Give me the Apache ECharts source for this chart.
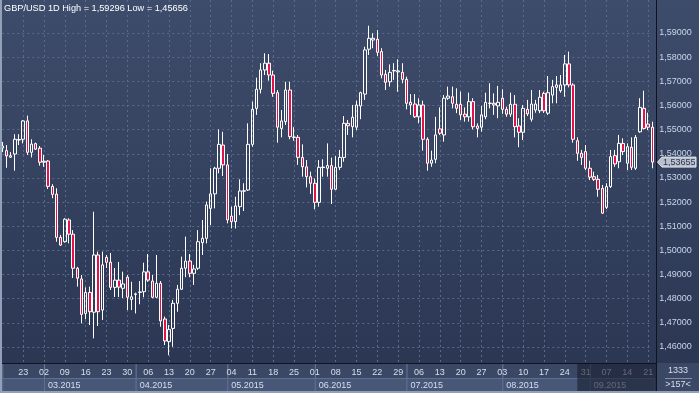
<!DOCTYPE html>
<html><head><meta charset="utf-8">
<script src="https://cdn.jsdelivr.net/npm/echarts@6/dist/echarts.min.js"></script>
<style>html,body{margin:0;padding:0;background:#2c3854;}#c{width:699px;height:393px;}</style>
</head><body><div id="c"></div>
<script>
// ---- data ----
const symbolTitle = 'GBP/USD 1D High = 1,59296 Low = 1,45656';
const firstDate = '2015-02-16';
// [open, close, low, high]
const candles = [
[1.5424,1.5432,1.5407,1.5449],[1.5413,1.5391,1.5342,1.5436],[1.5386,1.5392,1.5383,1.5407],[1.5399,1.5460,1.5330,1.5481],
[1.5457,1.5459,1.5436,1.5481],[1.5460,1.5536,1.5443,1.5540],[1.5536,1.5406,1.5395,1.5558],[1.5406,1.5440,1.5385,1.5460],
[1.5442,1.5419,1.5416,1.5446],[1.5423,1.5365,1.5351,1.5432],[1.5365,1.5369,1.5346,1.5395],[1.5370,1.5265,1.5254,1.5374],
[1.5265,1.5232,1.5216,1.5274],[1.5233,1.5054,1.5036,1.5257],[1.5054,1.5022,1.5018,1.5064],[1.5036,1.5129,1.5032,1.5133],
[1.5126,1.5067,1.5029,1.5133],[1.5067,1.4926,1.4886,1.5084],[1.4926,1.4885,1.4850,1.4932],[1.4882,1.4735,1.4698,1.4898],
[1.4739,1.4826,1.4715,1.4847],[1.4826,1.4746,1.4691,1.4850],[1.4744,1.4981,1.4636,1.5160],[1.4981,1.4746,1.4687,1.4995],
[1.4753,1.4940,1.4712,1.4995],[1.4971,1.4951,1.4927,1.4981],[1.4951,1.4847,1.4836,1.4989],[1.4847,1.4877,1.4807,1.4927],
[1.4877,1.4848,1.4807,1.4952],[1.4843,1.4861,1.4803,1.4912],[1.4889,1.4806,1.4753,1.4898],[1.4797,1.4808,1.4753,1.4870],
[1.4818,1.4820,1.4739,1.4825],[1.4826,1.4828,1.4777,1.4873],[1.4829,1.4911,1.4806,1.4949],[1.4911,1.4877,1.4870,1.4985],
[1.4873,1.4806,1.4802,1.4898],[1.4806,1.4864,1.4802,1.4981],[1.4864,1.4708,1.4684,1.4873],[1.4716,1.4625,1.4608,1.4726],
[1.4622,1.4673,1.4566,1.4691],[1.4677,1.4781,1.4601,1.4795],[1.4781,1.4839,1.4746,1.4857],[1.4839,1.4926,1.4836,1.4974],
[1.4926,1.4956,1.4889,1.5057],[1.4956,1.4905,1.4889,1.4985],[1.4905,1.4923,1.4857,1.4940],[1.4926,1.5036,1.4919,1.5084],
[1.5032,1.5050,1.4981,1.5126],[1.5050,1.5188,1.5029,1.5202],[1.5174,1.5234,1.5105,1.5340],[1.5234,1.5340,1.5174,1.5346],
[1.5340,1.5439,1.5319,1.5501],[1.5436,1.5354,1.5308,1.5491],[1.5354,1.5126,1.5112,1.5399],[1.5142,1.5119,1.5091,1.5181],
[1.5119,1.5184,1.5091,1.5222],[1.5181,1.5246,1.5146,1.5294],[1.5245,1.5247,1.5163,1.5278],[1.5250,1.5439,1.5246,1.5526],
[1.5439,1.5584,1.5429,1.5616],[1.5588,1.5667,1.5561,1.5715],[1.5667,1.5747,1.5650,1.5775],[1.5747,1.5775,1.5726,1.5816],
[1.5775,1.5726,1.5703,1.5813],[1.5726,1.5650,1.5636,1.5744],[1.5653,1.5510,1.5446,1.5664],[1.5505,1.5536,1.5468,1.5581],
[1.5533,1.5664,1.5519,1.5698],[1.5664,1.5471,1.5460,1.5698],[1.5468,1.5469,1.5454,1.5510],[1.5468,1.5385,1.5354,1.5478],
[1.5385,1.5346,1.5305,1.5439],[1.5346,1.5305,1.5261,1.5374],[1.5305,1.5278,1.5234,1.5326],[1.5278,1.5199,1.5170,1.5298],
[1.5199,1.5344,1.5181,1.5374],[1.5343,1.5345,1.5305,1.5377],[1.5340,1.5351,1.5305,1.5443],[1.5351,1.5253,1.5192,1.5384],
[1.5253,1.5344,1.5250,1.5391],[1.5344,1.5385,1.5333,1.5416],[1.5385,1.5526,1.5367,1.5556],[1.5526,1.5516,1.5478,1.5540],
[1.5512,1.5551,1.5468,1.5602],[1.5510,1.5602,1.5498,1.5620],[1.5598,1.5653,1.5543,1.5657],[1.5647,1.5830,1.5623,1.5843],
[1.5833,1.5878,1.5809,1.5930],[1.5871,1.5878,1.5837,1.5899],[1.5874,1.5820,1.5805,1.5912],[1.5823,1.5726,1.5712,1.5837],
[1.5729,1.5696,1.5664,1.5747],[1.5698,1.5737,1.5678,1.5770],[1.5743,1.5745,1.5706,1.5775],[1.5739,1.5743,1.5657,1.5791],
[1.5737,1.5708,1.5692,1.5775],[1.5708,1.5609,1.5584,1.5719],[1.5613,1.5602,1.5561,1.5647],[1.5606,1.5553,1.5548,1.5647],
[1.5553,1.5602,1.5526,1.5630],[1.5602,1.5460,1.5413,1.5620],[1.5460,1.5361,1.5330,1.5468],[1.5361,1.5374,1.5346,1.5413],
[1.5377,1.5478,1.5361,1.5553],[1.5503,1.5485,1.5478,1.5592],[1.5478,1.5630,1.5450,1.5643],[1.5630,1.5639,1.5623,1.5678],
[1.5636,1.5609,1.5588,1.5678],[1.5605,1.5588,1.5568,1.5671],[1.5605,1.5561,1.5540,1.5657],[1.5564,1.5553,1.5533,1.5592],
[1.5553,1.5616,1.5533,1.5653],[1.5616,1.5512,1.5501,1.5630],[1.5515,1.5505,1.5468,1.5526],[1.5510,1.5561,1.5491,1.5598],
[1.5553,1.5613,1.5543,1.5653],[1.5608,1.5610,1.5588,1.5692],[1.5609,1.5602,1.5561,1.5650],[1.5598,1.5613,1.5547,1.5681],
[1.5630,1.5584,1.5565,1.5667],[1.5584,1.5564,1.5553,1.5595],[1.5564,1.5605,1.5553,1.5653],[1.5605,1.5512,1.5468,1.5643],
[1.5515,1.5489,1.5427,1.5547],[1.5489,1.5588,1.5457,1.5602],[1.5584,1.5565,1.5556,1.5623],[1.5543,1.5606,1.5533,1.5664],
[1.5581,1.5606,1.5570,1.5623],[1.5578,1.5634,1.5568,1.5664],[1.5650,1.5578,1.5569,1.5657],[1.5568,1.5653,1.5561,1.5722],
[1.5643,1.5678,1.5609,1.5706],[1.5675,1.5685,1.5609,1.5722],[1.5661,1.5685,1.5653,1.5726],[1.5685,1.5772,1.5636,1.5809],
[1.5772,1.5685,1.5675,1.5823],[1.5685,1.5460,1.5446,1.5692],[1.5454,1.5402,1.5371,1.5468],[1.5402,1.5385,1.5354,1.5416],
[1.5409,1.5340,1.5333,1.5436],[1.5340,1.5303,1.5291,1.5371],[1.5305,1.5294,1.5287,1.5326],[1.5294,1.5253,1.5222,1.5312],
[1.5257,1.5154,1.5151,1.5271],[1.5178,1.5264,1.5171,1.5278],[1.5264,1.5388,1.5258,1.5416],[1.5392,1.5358,1.5346,1.5416],
[1.5367,1.5443,1.5340,1.5478],[1.5443,1.5409,1.5395,1.5464],[1.5361,1.5429,1.5333,1.5443],[1.5427,1.5344,1.5333,1.5468],
[1.5340,1.5468,1.5333,1.5478],[1.5491,1.5592,1.5487,1.5630],[1.5588,1.5505,1.5501,1.5661],[1.5523,1.5510,1.5498,1.5570],
[1.5510,1.53655,1.5340,1.5533]
];
const yTicks = [1.46,1.47,1.48,1.49,1.50,1.51,1.52,1.53,1.54,1.55,1.56,1.57,1.58,1.59];
const yMin = 1.45338, yMax = 1.60366;
const lastPrice = 1.53655;
const counterTop = '1333', counterBottom = '>157<';
const dimFromIndex = 138;

// ---- categories (weekdays) ----
const dates = [];
for (let t = Date.parse(firstDate + 'T00:00:00Z'); dates.length < candles.length; t += 86400000) {
  const d = new Date(t), wd = d.getUTCDay();
  if (wd !== 0 && wd !== 6) dates.push(d.toISOString().slice(0, 10));
}
const isWeekMark = (i, v) => i > 0 && new Date(v + 'T00:00:00Z').getUTCDay() === 1;
const monthSpans = [];
dates.forEach((d, i) => {
  if (i === 0 || d.slice(5, 7) !== dates[i - 1].slice(5, 7)) monthSpans.push([i, dates.length]);
});
for (let k = 0; k < monthSpans.length - 1; k++) monthSpans[k][1] = monthSpans[k + 1][0];
const monthLabels = monthSpans.map((s, k) => k === 0 ? '' : dates[s[0]].slice(5, 7) + '.' + dates[s[0]].slice(0, 4));

const FONT = 'Liberation Sans, Arial, sans-serif';
const fmt = v => v.toFixed(5).replace('.', ',');
const chart = echarts.init(document.getElementById('c'));
const PLOT_L = 2.3, PLOT_W = 650, PLOT_H = 363;

chart.setOption({
  animation: false,
  backgroundColor: {type: 'linear', x: 0, y: 0, x2: 0, y2: 1,
    colorStops: [{offset: 0, color: '#3e4c6b'}, {offset: 0.92, color: '#2b3753'}, {offset: 1, color: '#2b3753'}]},
  grid: [
    {left: PLOT_L, top: 0, width: PLOT_W, height: PLOT_H},
    {left: PLOT_L, top: 363, width: PLOT_W, height: 30}
  ],
  xAxis: [
    {gridIndex: 0, type: 'category', data: dates, boundaryGap: false,
      axisLine: {show: false}, axisTick: {show: false}, axisLabel: {show: false},
      splitLine: {show: true, interval: isWeekMark, lineStyle: {type: [2, 3], color: '#5a6a8b', width: 1}}},
    {gridIndex: 1, type: 'category', data: dates, boundaryGap: false, position: 'top', z: 10,
      axisLine: {show: false}, axisTick: {show: false}, splitLine: {show: false},
      axisLabel: {inside: true, margin: 5, interval: isWeekMark, formatter: v => v.slice(8, 10),
        color: '#d8dfec', fontSize: 9, fontFamily: FONT}}
  ],
  yAxis: [
    {gridIndex: 0, type: 'value', position: 'right', min: yMin, max: yMax,
      axisLine: {show: false}, axisTick: {show: false, customValues: yTicks},
      axisLabel: {customValues: yTicks, formatter: fmt, color: '#c9d5ea', fontSize: 9, fontFamily: FONT, margin: 7},
      splitLine: {show: true, lineStyle: {type: [2, 3], color: '#5a6a8b', width: 1}}},
    {gridIndex: 1, type: 'value', min: 0, max: 30, inverse: true, show: false}
  ],
  series: [
    {type: 'candlestick', xAxisIndex: 0, yAxisIndex: 0, data: candles, barWidth: 3, clip: false, z: 5,
      itemStyle: {color: 'rgba(0,0,0,0)', color0: '#e3124b', borderColor: '#ffffff', borderColor0: '#ffffff',
        borderColorDoji: '#ffffff', borderWidth: 1}},
    {type: 'custom', xAxisIndex: 1, yAxisIndex: 1, data: monthSpans, clip: false, z: 10,
      renderItem: (params, api) => {
        const cs = params.coordSys;
        const s = api.value(0), e = api.value(1);
        const x0 = api.coord([s, 0])[0];
        const x1 = e < dates.length ? api.coord([e, 0])[0] : cs.x + cs.width + 1.5;
        const yRow = api.coord([0, 15.5])[1];
        const yTop = api.coord([0, 0])[1];
        return {type: 'group', children: [
          {type: 'rect', shape: {x: x0 + 0.5, y: yRow, width: x1 - x0, height: 13}, style: {fill: '#475778', stroke: '#5f6f8f', lineWidth: 1}},
          {type: 'line', shape: {x1: x0 + 0.5, y1: yTop, x2: x0 + 0.5, y2: yRow}, style: {stroke: '#6a7a9a', lineWidth: 1}},
          {type: 'text', style: {x: x0 + 4, y: yRow + 7, text: monthLabels[params.dataIndex], fill: '#d8dfec', font: '9px ' + FONT, verticalAlign: 'middle'}}
        ]};
      }}
  ]
});

const pxY = chart.convertToPixel({yAxisIndex: 0}, lastPrice);
const dimX = chart.convertToPixel({xAxisIndex: 1}, dates[dimFromIndex]);
chart.setOption({
  graphic: [
    {type: 'rect', z: 1, shape: {x: 0, y: 363, width: 699, height: 30}, style: {fill: '#3a4866'}},
    {type: 'rect', z: 60, shape: {x: dimX, y: 363.5, width: 656 - dimX, height: 28}, style: {fill: 'rgba(24,30,46,0.62)'}},
    {type: 'line', z: 61, shape: {x1: 0, y1: 363.5, x2: 656, y2: 363.5}, style: {stroke: '#0f1420', lineWidth: 1}},
    {type: 'line', z: 61, shape: {x1: 656.5, y1: 0, x2: 656.5, y2: 393}, style: {stroke: '#0f1420', lineWidth: 1}},
    {type: 'rect', z: 61, shape: {x: 0, y: 0, width: 2, height: 393}, style: {fill: '#93a1b8'}},
    {type: 'rect', z: 61, shape: {x: 0, y: 391, width: 699, height: 2}, style: {fill: '#93a1b8'}},
    {type: 'text', z: 61, style: {x: 678, y: 371, text: counterTop, fill: '#d8dfec', font: '9px ' + FONT, align: 'center', verticalAlign: 'middle'}},
    {type: 'line', z: 61, shape: {x1: 665, y1: 378.5, x2: 692, y2: 378.5}, style: {stroke: '#8090aa', lineWidth: 1}},
    {type: 'text', z: 61, style: {x: 678, y: 385, text: counterBottom, fill: '#d8dfec', font: '9px ' + FONT, align: 'center', verticalAlign: 'middle'}},
    {type: 'text', z: 61, style: {x: 4, y: 8, text: symbolTitle, fill: '#ffffff', font: '9.2px ' + FONT, verticalAlign: 'middle'}},
    {type: 'polygon', z: 62, shape: {points: [[657.5, pxY], [662, pxY - 5], [696, pxY - 5], [696, pxY + 5], [662, pxY + 5]]},
      style: {fill: '#b9c1cd', stroke: '#dfe4ea', lineWidth: 1}},
    {type: 'text', z: 63, style: {x: 663, y: pxY + 0.5, text: fmt(lastPrice), fill: '#2b3550', font: '9px ' + FONT, verticalAlign: 'middle'}}
  ]
});
</script></body></html>
